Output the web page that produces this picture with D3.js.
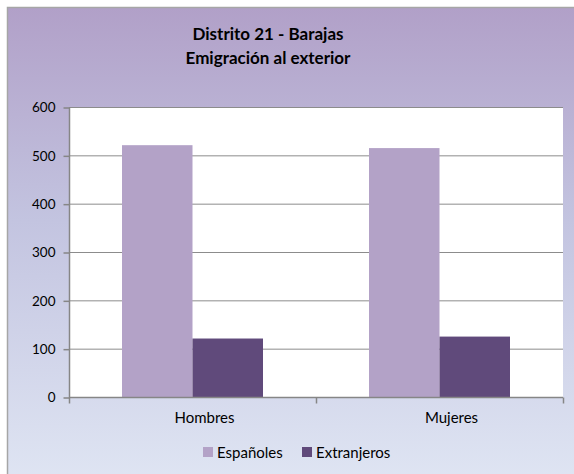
<!DOCTYPE html>
<html lang="es">
<head>
<meta charset="utf-8">
<script src="https://d3js.org/d3.v7.min.js"></script>
<style>
  body { margin: 0; background: #fff; }
  text { font-family: Lato, "Open Sans", sans-serif; fill: #000; }
</style>
</head>
<body>
<script>
const W = 574, H = 474;

const titleLines = ["Distrito 21 - Barajas", "Emigración al exterior"];
const categories = ["Hombres", "Mujeres"];
const seriesNames = ["Españoles", "Extranjeros"];
const espanoles = [521, 515];
const extranjeros = [121, 125];
const yTicks = [0, 100, 200, 300, 400, 500, 600];
const colors = ["#b3a2c7", "#604a7b"];

const svg = d3.select("body").append("svg")
  .attr("width", W).attr("height", H);

// background gradient
const grad = svg.append("defs").append("linearGradient")
  .attr("id", "bg").attr("x1", 0).attr("y1", 0).attr("x2", 0).attr("y2", 1);
grad.append("stop").attr("offset", "0%").attr("stop-color", "#b1a0c8");
grad.append("stop").attr("offset", "45%").attr("stop-color", "#c3c4e0");
grad.append("stop").attr("offset", "100%").attr("stop-color", "#dfe5f3");

svg.append("rect")
  .attr("x", 7.5).attr("y", 7.5).attr("width", W).attr("height", H)
  .attr("fill", "url(#bg)").attr("stroke", "#a6a6a6").attr("stroke-width", 1.5);

// title
svg.selectAll(".title").data(titleLines).enter().append("text")
  .attr("x", 268).attr("y", (d, i) => 40 + i * 24)
  .attr("text-anchor", "middle")
  .attr("font-size", 17).attr("font-weight", "bold")
  .text(d => d);

const pLeft = 69, pRight = 563, pTop = 107, pBottom = 397;

const x = d3.scaleBand().domain(categories).range([pLeft, pRight]).paddingInner(0).paddingOuter(0);
const y = d3.scaleLinear().domain([0, 600]).range([pBottom, pTop]);

// plot area
svg.append("rect")
  .attr("x", pLeft).attr("y", pTop).attr("width", pRight - pLeft).attr("height", pBottom - pTop)
  .attr("fill", "#fff");

// gridlines
svg.append("g").selectAll("line").data(yTicks.filter(d => d > 0)).enter().append("line")
  .attr("x1", pLeft).attr("x2", pRight)
  .attr("y1", d => y(d) + 0.5).attr("y2", d => y(d) + 0.5)
  .attr("stroke", "#8c8c8c").attr("stroke-width", 1);

// bars
const groupW = x.bandwidth() * 141 / 247;
const x1 = d3.scaleBand().domain(seriesNames).range([0, groupW]);
const data = [espanoles, extranjeros];

seriesNames.forEach((s, si) => {
  svg.append("g").selectAll("rect").data(categories).enter().append("rect")
    .attr("x", c => x(c) + (x.bandwidth() - groupW) / 2 + x1(s))
    .attr("y", (c, i) => y(data[si][i]))
    .attr("width", x1.bandwidth())
    .attr("height", (c, i) => pBottom - y(data[si][i]))
    .attr("fill", colors[si]);
});

// y axis
const yAxis = d3.axisLeft(y).tickValues(yTicks).tickSize(6).tickPadding(4);
const ya = svg.append("g").attr("transform", `translate(${pLeft + 0.5},0.5)`).call(yAxis);
ya.selectAll("path, line").attr("stroke", "#868686").attr("stroke-width", 1.5);
ya.select(".domain").attr("d", `M0,${pTop}V${pBottom}`);
ya.selectAll("text").attr("font-size", 13.5).attr("x", -14).attr("text-anchor", "end");

// x axis
const xAxis = d3.axisBottom(x).tickSize(0).tickPadding(14);
const xa = svg.append("g").attr("transform", `translate(0,${pBottom + 0.5})`).call(xAxis);
xa.select(".domain").attr("stroke", "#868686").attr("stroke-width", 1.5).attr("d", `M${pLeft},0H${pRight}`);
xa.selectAll("text").attr("font-size", 15).attr("dx", 12).attr("dy", "0.75em");
xa.append("g").selectAll("line").data(categories.concat([null])).enter().append("line")
  .attr("x1", (c, i) => i < categories.length ? x(c) + 0.5 : pRight + 0.5)
  .attr("x2", (c, i) => i < categories.length ? x(c) + 0.5 : pRight + 0.5)
  .attr("y1", 0).attr("y2", 6)
  .attr("stroke", "#868686").attr("stroke-width", 1.5);

// legend
const legX = [203, 302];
const leg = svg.append("g").selectAll("g").data(seriesNames).enter().append("g")
  .attr("transform", (d, i) => `translate(${legX[i]},447)`);
leg.append("rect").attr("width", 10).attr("height", 10).attr("fill", (d, i) => colors[i]);
leg.append("text").attr("x", 14).attr("y", 10.5).attr("font-size", 15).text(d => d);
</script>
</body>
</html>
